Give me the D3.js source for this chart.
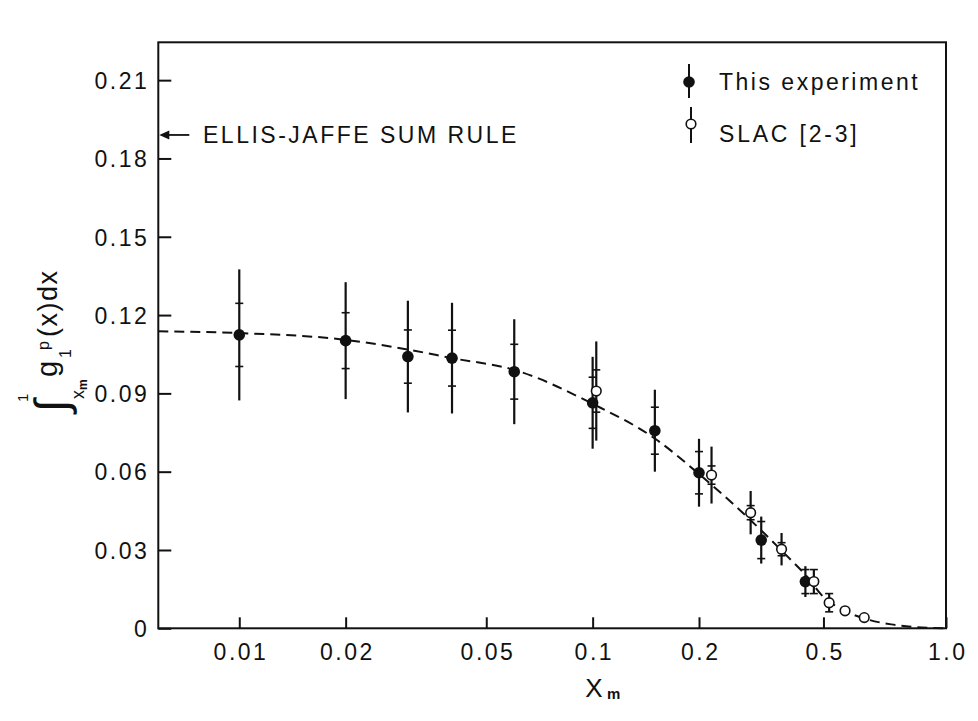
<!DOCTYPE html>
<html>
<head>
<meta charset="utf-8">
<script src="https://cdn.jsdelivr.net/npm/d3@7"></script>
<style>
  html, body { margin: 0; padding: 0; background: #fff; }
  svg { display: block; }
  text { font-family: "Liberation Sans", Arial, Helvetica, sans-serif; fill: #111; }
</style>
</head>
<body>
<svg id="chart" width="978" height="721"></svg>
<script>
// ---------------- data ----------------
// This experiment: x_m, integral value, statistical error, total error
const expX    = [0.01, 0.02, 0.03, 0.04, 0.06, 0.10, 0.15, 0.20, 0.30, 0.40];
const expY    = [0.1124, 0.1102, 0.1041, 0.1035, 0.0983, 0.0864, 0.0757, 0.0596, 0.0338, 0.0179];
const expStat = [0.0121, 0.0107, 0.0102, 0.0107, 0.0105, 0.0098, 0.0090, 0.0081, 0.0071, 0.0046];
const expTot  = [0.0251, 0.0224, 0.0214, 0.0212, 0.0201, 0.0176, 0.0157, 0.0130, 0.0090, 0.0059];

// SLAC [2-3]
const slacX    = [0.1024, 0.217, 0.28, 0.3425, 0.4227, 0.467, 0.518, 0.587];
const slacY    = [0.0909, 0.0587, 0.0443, 0.0303, 0.0179, 0.0098, 0.0067, 0.0041];
const slacStat = [0.0081, 0.0035, 0.0027, 0.0025, 0.0046, 0.0035, 0, 0];
const slacTot  = [0.0190, 0.0109, 0.0083, 0.0062, 0.0046, 0.0035, 0, 0];

// dashed curve
const curveX = [0.0059, 0.01, 0.02, 0.03, 0.04, 0.06, 0.10, 0.15, 0.20, 0.30, 0.35, 0.40, 0.45, 0.50, 0.60, 0.70, 0.80, 0.90, 1.0];
const curveY = [0.1138, 0.1131, 0.1105, 0.1068, 0.1035, 0.0990, 0.0860, 0.0727, 0.0591, 0.0375, 0.0285, 0.0205, 0.0120, 0.0077, 0.0034, 0.0015, 0.0006, 0.0002, 0.0];

// Ellis-Jaffe sum rule value
const ellisJaffe = 0.189;

// axis ticks (the reference's "0.5" tick is drawn at about 0.45 on its log scale)
const xTickValues = [0.01, 0.02, 0.05, 0.1, 0.2, 0.45, 1.0];
const xTickLabels = ["0.01", "0.02", "0.05", "0.1", "0.2", "0.5", "1.0"];
const yTickValues = [0, 0.03, 0.06, 0.09, 0.12, 0.15, 0.18, 0.21];
const yTickLabels = ["0", "0.03", "0.06", "0.09", "0.12", "0.15", "0.18", "0.21"];

const legendLabels = ["This experiment", "SLAC [2-3]"];

// ---------------- layout ----------------
const L = 158.3, R = 946, T = 42.3, B = 628.3;
const svg = d3.select("#chart");
svg.append("rect").attr("width", 978).attr("height", 721).attr("fill", "#fff");

const x = d3.scaleLog().domain([0.0059, 1.0]).range([L, R]);
const y = d3.scaleLinear().domain([0, 0.2245]).range([B, T]);

// ---------------- axes ----------------
const xAxis = svg.append("g").attr("transform", `translate(0,${B})`)
  .call(d3.axisBottom(x).tickValues(xTickValues)
    .tickFormat((d, i) => xTickLabels[i]).tickSize(-11).tickSizeOuter(0));
xAxis.select(".domain").remove();
xAxis.selectAll(".tick line").attr("stroke", "#111").attr("stroke-width", 2);
xAxis.selectAll(".tick text")
  .attr("y", 31.7).attr("dy", 0)
  .attr("font-size", 23).attr("letter-spacing", 2.5)
  .attr("dx", 1.2)
  .attr("fill", "#111");

const yAxis = svg.append("g").attr("transform", `translate(${L},0)`)
  .call(d3.axisLeft(y).tickValues(yTickValues)
    .tickFormat((d, i) => yTickLabels[i]).tickSize(-13).tickSizeOuter(0));
yAxis.select(".domain").remove();
yAxis.selectAll(".tick line").attr("stroke", "#111").attr("stroke-width", 2);
yAxis.selectAll(".tick text")
  .attr("x", -9).attr("dy", "0.36em")
  .attr("font-size", 23).attr("letter-spacing", 2.5)
  .attr("fill", "#111");

// frame
svg.append("rect").attr("x", L).attr("y", T).attr("width", R - L).attr("height", B - T)
  .attr("fill", "none").attr("stroke", "#111").attr("stroke-width", 2);

// ---------------- dashed curve ----------------
const curvePts = curveX.map((v, i) => [v, curveY[i]]);
svg.append("path")
  .datum(curvePts)
  .attr("fill", "none").attr("stroke", "#111").attr("stroke-width", 2)
  .attr("stroke-dasharray", "10,6")
  .attr("d", d3.line().x(d => x(d[0])).y(d => y(d[1])).curve(d3.curveMonotoneX));

// ---------------- error bars + points ----------------
function drawSeries(xs, ys, stat, tot, filled) {
  const data = xs.map((v, i) => ({ x: v, y: ys[i], s: stat[i], t: tot[i] }));
  const g = svg.append("g");
  const withErr = data.filter(d => d.t > 0);
  g.selectAll("line.err").data(withErr).join("line")
    .attr("x1", d => x(d.x)).attr("x2", d => x(d.x))
    .attr("y1", d => y(d.y + d.t)).attr("y2", d => y(d.y - d.t))
    .attr("stroke", "#111").attr("stroke-width", 2.2);
  const ticks = [];
  withErr.forEach(d => { if (d.s > 0) { ticks.push({ x: d.x, v: d.y + d.s }); ticks.push({ x: d.x, v: d.y - d.s }); } });
  g.selectAll("line.st").data(ticks).join("line")
    .attr("x1", d => x(d.x) - 4).attr("x2", d => x(d.x) + 4)
    .attr("y1", d => y(d.v)).attr("y2", d => y(d.v))
    .attr("stroke", "#111").attr("stroke-width", 1.6);
  g.selectAll("circle").data(data).join("circle")
    .attr("cx", d => x(d.x)).attr("cy", d => y(d.y))
    .attr("r", filled ? 5.8 : 4.8)
    .attr("fill", filled ? "#111" : "#fff")
    .attr("stroke", "#111").attr("stroke-width", filled ? 0 : 1.6);
}
drawSeries(expX, expY, expStat, expTot, true);
drawSeries(slacX, slacY, slacStat, slacTot, false);

// ---------------- Ellis-Jaffe annotation ----------------
const ejY = y(ellisJaffe);
svg.append("line").attr("x1", L + 8).attr("x2", L + 31).attr("y1", ejY).attr("y2", ejY)
  .attr("stroke", "#111").attr("stroke-width", 1.8);
svg.append("path")
  .attr("d", `M${L + 1},${ejY} L${L + 11},${ejY - 4.5} L${L + 11},${ejY + 4.5} Z`)
  .attr("fill", "#111");
svg.append("text").attr("x", 203).attr("y", ejY + 8)
  .attr("font-size", 23).attr("letter-spacing", 2.5)
  .text("ELLIS-JAFFE SUM RULE");

// ---------------- legend ----------------
const lg = svg.append("g");
lg.append("line").attr("x1", 689).attr("x2", 689).attr("y1", 64).attr("y2", 98)
  .attr("stroke", "#111").attr("stroke-width", 2);
lg.append("circle").attr("cx", 689).attr("cy", 82).attr("r", 5.8).attr("fill", "#111");
lg.append("text").attr("x", 719).attr("y", 90).attr("font-size", 23).attr("letter-spacing", 2.5)
  .text(legendLabels[0]);
lg.append("line").attr("x1", 691).attr("x2", 691).attr("y1", 107).attr("y2", 143)
  .attr("stroke", "#111").attr("stroke-width", 2);
lg.append("circle").attr("cx", 691).attr("cy", 124).attr("r", 4.8).attr("fill", "#fff")
  .attr("stroke", "#111").attr("stroke-width", 1.6);
lg.append("text").attr("x", 719).attr("y", 142).attr("font-size", 23).attr("letter-spacing", 2.8)
  .text(legendLabels[1]);

// ---------------- axis titles ----------------
svg.append("text").attr("x", 594).attr("y", 697).attr("text-anchor", "middle")
  .attr("font-size", 26).text("X");
svg.append("text").attr("x", 607).attr("y", 699).attr("font-size", 15).attr("font-weight", "bold")
  .text("m");

// rotated y label: ∫_{x_m}^1 g_1^p(x)dx  (local x runs up the page, local y to the right)
const yl = svg.append("g").attr("transform", "translate(57,410) rotate(-90)");
yl.append("text").attr("x", -2).attr("y", 10).attr("font-size", 46)
  .attr("font-family", "DejaVu Sans, sans-serif").text("∫");
yl.append("text").attr("x", 8).attr("y", -29).attr("font-size", 15).text("1");
yl.append("text").attr("x", 11).attr("y", 27).attr("font-size", 18).text("x");
yl.append("text").attr("x", 20).attr("y", 30).attr("font-size", 12).attr("font-weight", "bold").text("m");
yl.append("text").attr("x", 33).attr("y", 0).attr("font-size", 29).text("g");
yl.append("text").attr("x", 52).attr("y", 14).attr("font-size", 16).text("1");
yl.append("text").attr("x", 60).attr("y", -8).attr("font-size", 16).text("p");
yl.append("text").attr("x", 73).attr("y", 0).attr("font-size", 27).attr("letter-spacing", 1.5).text("(x)dx");
</script>
</body>
</html>
